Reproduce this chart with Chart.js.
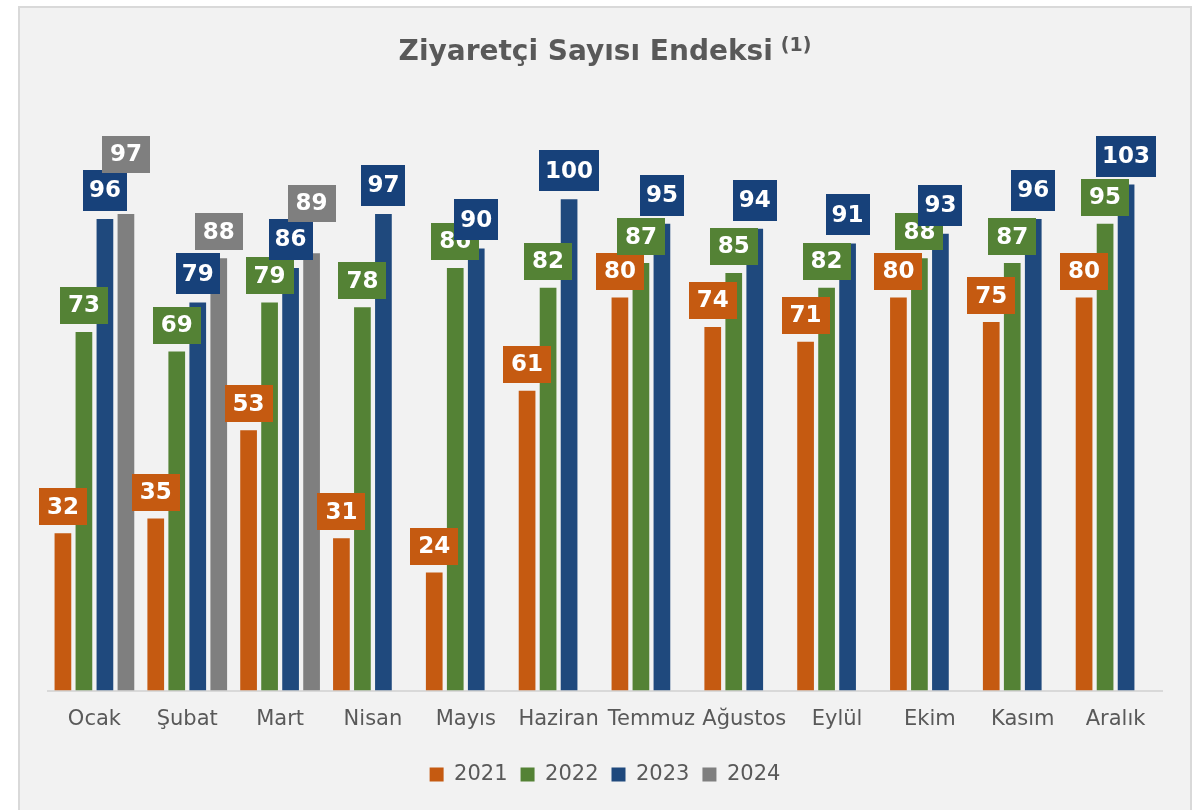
<!DOCTYPE html>
<html lang="tr">
<head>
<meta charset="utf-8">
<title>Ziyaretçi Sayısı Endeksi</title>
<script src="https://cdn.jsdelivr.net/npm/chart.js@4.4.1/dist/chart.umd.min.js"></script>
<style>
  body { margin: 0; background: #ffffff; }
  #panel {
    position: absolute;
    left: 18px;
    top: 6px;
    width: 1170px;
    height: 810px;
    background: #f2f2f2;
    border: 2px solid #d9d9d9;
  }
  canvas { display: block; }
</style>
</head>
<body>
<div id="panel">
  <canvas id="visitor-chart" width="1170" height="802"></canvas>
</div>
<script>
Chart.defaults.font.family = '"DejaVu Sans", Verdana, sans-serif'
Chart.defaults.color = '#595959'

const chartTitle = 'Ziyaretçi Sayısı Endeksi';
const titleNote = '(1)';

const months = ['Ocak', 'Şubat', 'Mart', 'Nisan', 'Mayıs', 'Haziran',
  'Temmuz', 'Ağustos', 'Eylül', 'Ekim', 'Kasım', 'Aralık'];

const seriesNames = ['2021', '2022', '2023', '2024'];

const values2021 = [32, 35, 53, 31, 24, 61, 80, 74, 71, 80, 75, 80];
const values2022 = [73, 69, 79, 78, 86, 82, 87, 85, 82, 88, 87, 95];
const values2023 = [96, 79, 86, 97, 90, 100, 95, 94, 91, 93, 96, 103];
const values2024 = [97, 88, 89, null, null, null, null, null, null, null, null, null];

// colours per year: bar fill, label box fill
const barColors = ['#c55a11', '#548235', '#1f497d', '#7f7f7f'];
const boxColors = ['#c55a11', '#548235', '#17417a', '#7f7f7f'];

// value labels in filled boxes above each bar
const boxLabels = {
  id: 'boxLabels',
  afterDatasetsDraw(chart) {
    const ctx = chart.ctx;
    ctx.save();
    ctx.font = 'bold 23px "DejaVu Sans"';
    ctx.textAlign = 'center';
    ctx.textBaseline = 'middle';
    const lastTop = {};
    chart.data.datasets.forEach((ds, i) => {
      const meta = chart.getDatasetMeta(i);
      if (meta.hidden) return;
      meta.data.forEach((bar, j) => {
        const v = ds.data[j];
        if (v === null || v === undefined) return;
        const text = String(v);
        const w = ctx.measureText(text).width + 2 * ds.labelPadX;
        const h = ds.labelHeight;
        let bottom = bar.y - 8;
        // push up when it would mostly cover the previous year's box
        if (lastTop[j] !== undefined && bottom - lastTop[j] > 22) {
          bottom = lastTop[j] + 3;
        }
        const top = bottom - h;
        ctx.fillStyle = ds.labelColor;
        ctx.fillRect(Math.round(bar.x - w / 2), Math.round(top), Math.round(w), h);
        ctx.fillStyle = '#ffffff';
        ctx.fillText(text, bar.x, top + h / 2 + 1);
        lastTop[j] = top;
      });
    });
    ctx.restore();
  }
};

// title with a small superscript note
const titleWithNote = {
  id: 'titleWithNote',
  afterDraw(chart) {
    const ctx = chart.ctx;
    ctx.save();
    ctx.fillStyle = '#595959';
    ctx.textAlign = 'left';
    ctx.textBaseline = 'alphabetic';
    ctx.font = 'bold 28px "DejaVu Sans"';
    const mainW = ctx.measureText(chartTitle).width;
    ctx.font = 'bold 19px "DejaVu Sans"';
    const noteW = ctx.measureText(titleNote).width;
    const gap = 8;
    const x0 = chart.width / 2 - (mainW + gap + noteW) / 2;
    ctx.font = 'bold 28px "DejaVu Sans"';
    ctx.fillText(chartTitle, x0, 52);
    ctx.font = 'bold 19px "DejaVu Sans"';
    ctx.fillText(titleNote, x0 + mainW + gap, 43);
    ctx.restore();
  }
};

function makeDataset(idx, values) {
  return {
    label: seriesNames[idx],
    data: values,
    backgroundColor: barColors[idx],
    borderWidth: 0,
    labelColor: boxColors[idx],
    labelPadX: idx === 2 ? 6 : 8,
    labelHeight: idx === 2 ? 41 : 37,
    categoryPercentage: 0.905,
    barPercentage: 0.795
  };
}

const ctx = document.getElementById('visitor-chart').getContext('2d');
const visitorChart = new Chart(ctx, {
  type: 'bar',
  data: {
    labels: months,
    datasets: [
      makeDataset(0, values2021),
      makeDataset(1, values2022),
      makeDataset(2, values2023),
      makeDataset(3, values2024)
    ]
  },
  options: {
    responsive: false,
    animation: false,
    layout: {
      padding: { top: 93, left: 28, right: 28, bottom: 15 }
    },
    scales: {
      x: {
        grid: { display: false, drawTicks: false },
        border: { color: '#d9d9d9', width: 2 },
        ticks: {
          padding: 16,
          color: '#595959',
          maxRotation: 0,
          minRotation: 0,
          autoSkip: false,
          font: { size: 21 }
        },
        afterFit(scale) {
          scale.height = 60.5;
        }
      },
      y: {
        display: false,
        min: 0,
        max: 120
      }
    },
    plugins: {
      legend: {
        position: 'bottom',
        labels: {
          boxWidth: 14,
          boxHeight: 14,
          padding: 13,
          color: '#595959',
          font: { size: 21 }
        }
      },
      title: { display: false },
      tooltip: { enabled: false }
    }
  },
  plugins: [boxLabels, titleWithNote]
});
</script>
</body>
</html>
